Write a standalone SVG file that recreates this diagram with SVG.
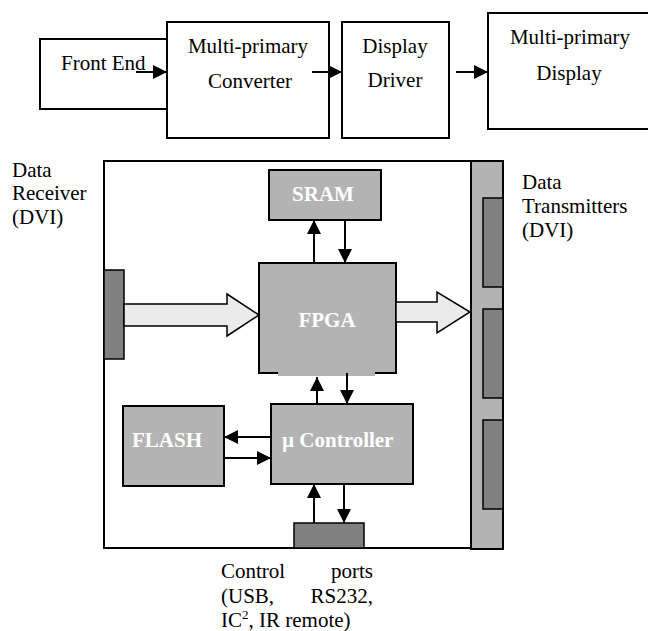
<svg xmlns="http://www.w3.org/2000/svg" width="648" height="631" viewBox="0 0 648 631" font-family="Liberation Serif, Times New Roman, serif">
<style>
  text { font-family: "Liberation Serif", "Times New Roman", Times, serif; }
  .t { font-size: 21px; fill: #000; }
  .b { font-size: 21px; font-weight: bold; fill: #fff; }
  .box { fill: #fff; stroke: #000; stroke-width: 2; }
  .gbox { fill: #b3b3b3; stroke: #000; stroke-width: 2; }
  .dark { fill: #808080; stroke: #000; stroke-width: 1.5; }
  .ln { stroke: #000; stroke-width: 2; fill: none; }
  .fat { fill: #ebebeb; stroke: #000; stroke-width: 1.5; }
</style>
<defs>
  <marker id="ah" markerWidth="14" markerHeight="14" viewBox="0 0 14 14" refX="14" refY="7" orient="auto" markerUnits="userSpaceOnUse">
    <path d="M0,0 L14,7 L0,14 Z" fill="#000"/>
  </marker>
</defs>
<rect width="648" height="631" fill="#fff"/>

<!-- Top chain -->
<g id="front-end">
  <rect class="box" x="40" y="39" width="140" height="70"/>
  <text class="t" x="61" y="70" font-family="Liberation Serif">Front End</text>
</g>
<g id="converter">
  <rect class="box" x="167" y="22" width="162" height="116"/>
  <text class="t" x="248" y="53" text-anchor="middle">Multi-primary</text>
  <text class="t" x="250" y="88" text-anchor="middle">Converter</text>
</g>
<g id="display-driver">
  <rect class="box" x="342" y="22" width="107" height="116"/>
  <text class="t" x="395" y="53" text-anchor="middle">Display</text>
  <text class="t" x="395" y="87" text-anchor="middle">Driver</text>
</g>
<g id="mp-display">
  <rect class="box" x="488" y="13" width="170" height="116"/>
  <text class="t" x="570" y="44" text-anchor="middle">Multi-primary</text>
  <text class="t" x="569" y="80" text-anchor="middle">Display</text>
</g>

<!-- Board -->
<g id="board">
  <rect x="104" y="161" width="367" height="387" fill="#fff" stroke="#000" stroke-width="2"/>
</g>
<g id="transmitters">
  <rect class="gbox" x="471" y="161" width="32" height="388"/>
  <rect class="dark" x="483" y="198" width="20" height="89"/>
  <rect class="dark" x="483" y="309" width="20" height="89"/>
  <rect class="dark" x="483" y="420" width="20" height="89"/>
  <text class="t" x="522" y="189">Data</text>
  <text class="t" x="522" y="213">Transmitters</text>
  <text class="t" x="522" y="237">(DVI)</text>
</g>
<g id="receiver">
  <rect class="dark" x="104" y="270" width="20" height="89"/>
  <text class="t" x="12" y="177">Data</text>
  <text class="t" x="12" y="200">Receiver</text>
  <text class="t" x="12" y="224">(DVI)</text>
</g>
<g id="sram">
  <rect class="gbox" x="269" y="170" width="112" height="50"/>
  <text class="b" x="323" y="201" text-anchor="middle">SRAM</text>
</g>
<g id="fpga">
  <rect class="gbox" x="259" y="263" width="137" height="110"/>
  <rect x="278" y="371" width="97" height="5" fill="#b3b3b3"/>
  <text class="b" x="327" y="327" text-anchor="middle">FPGA</text>
</g>
<g id="controller">
  <rect class="gbox" x="271" y="404" width="142" height="80"/>
  <text class="b" x="282" y="447">µ Controller</text>
</g>
<g id="flash">
  <rect class="gbox" x="123" y="406" width="101" height="80"/>
  <text class="b" x="132" y="447">FLASH</text>
</g>
<g id="control-port">
  <rect class="dark" x="294" y="523" width="70" height="25"/>
  <text class="t" x="221" y="578">Control</text>
  <text class="t" x="373" y="578" text-anchor="end">ports</text>
  <text class="t" x="221" y="603">(USB,</text>
  <text class="t" x="373" y="603" text-anchor="end">RS232,</text>
  <text class="t" x="221" y="627">IC<tspan font-size="13" dy="-8">2</tspan><tspan dy="8">, IR remote)</tspan></text>
</g>

<!-- Connectors -->
<g id="connectors">
  <line class="ln" x1="136" y1="72" x2="167" y2="72" marker-end="url(#ah)"/>
  <line class="ln" x1="312" y1="72" x2="342" y2="72" marker-end="url(#ah)"/>
  <line class="ln" x1="456" y1="72" x2="488" y2="72" marker-end="url(#ah)"/>

  <polygon class="fat" points="124,304 227,304 227,294 259,315 227,336 227,326 124,326"/>
  <polygon class="fat" points="396,302 437,302 437,292 470,312 437,333 437,322 396,322"/>

  <line class="ln" x1="314" y1="263" x2="314" y2="220" marker-end="url(#ah)"/>
  <line class="ln" x1="345" y1="220" x2="345" y2="263" marker-end="url(#ah)"/>

  <line class="ln" x1="317" y1="404" x2="317" y2="377" marker-end="url(#ah)"/>
  <line class="ln" x1="347" y1="373" x2="347" y2="404" marker-end="url(#ah)"/>

  <line class="ln" x1="271" y1="437" x2="224" y2="437" marker-end="url(#ah)"/>
  <line class="ln" x1="224" y1="458" x2="271" y2="458" marker-end="url(#ah)"/>

  <line class="ln" x1="314" y1="523" x2="314" y2="484" marker-end="url(#ah)"/>
  <line class="ln" x1="344" y1="484" x2="344" y2="523" marker-end="url(#ah)"/>
</g>
</svg>
